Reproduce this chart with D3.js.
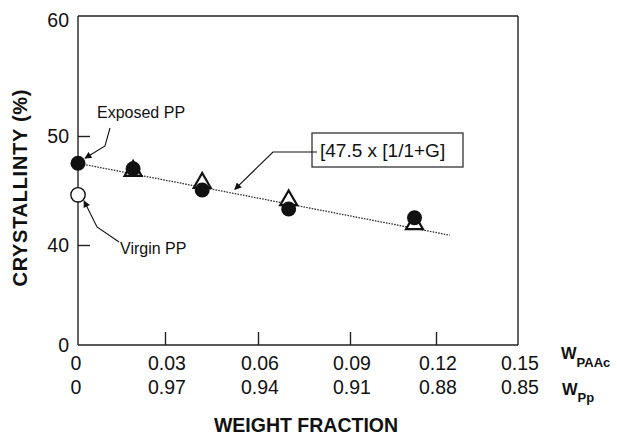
<!DOCTYPE html>
<html><head><meta charset="utf-8">
<script src="https://cdn.jsdelivr.net/npm/d3@7"></script>
<style>body{margin:0;background:#fff}svg{display:block}text{font-family:"Liberation Sans",Arial,Helvetica,sans-serif;fill:#111}</style>
</head><body>
<svg id="c" width="617" height="435"></svg>
<script>
// ---- data ----
const xTicks = [0, 0.03, 0.06, 0.09, 0.12, 0.15];
const xTickLabelsPAAc = ["0", "0.03", "0.06", "0.09", "0.12", "0.15"];
const xTickLabelsPP = ["0", "0.97", "0.94", "0.91", "0.88", "0.85"];
const yTicks = [0, 40, 50, 60];
const exposedPP = [{x: 0, y: 47.5}];
const virginPP = [{x: 0, y: 44.6}];
const circleX = [0.019, 0.042, 0.070, 0.1125];
const circleY = [47.0, 45.05, 43.3, 42.5];
const triangleX = [0.019, 0.042, 0.070, 0.1125];
const triangleY = [46.8, 45.7, 44.1, 41.9];
const fitLine = [{x: 0, y: 47.5}, {x: 0.125, y: 40.9}];
const formulaText = "[47.5 x [1/1+G]";

// ---- layout ----
const svg = d3.select("#c");
const L = 78, R = 518, T = 16, B = 345;
const x = d3.scaleLinear().domain(xTicks).range([78, 165, 258, 350, 436, 518]);
const y = d3.scaleLinear().domain(yTicks).range([345, 245, 136, 16]);

// frame
const ax = "#222";
svg.append("line").attr("x1", L).attr("x2", R).attr("y1", T).attr("y2", T).attr("stroke", ax).attr("stroke-width", 1.4);
svg.append("line").attr("x1", R).attr("x2", R).attr("y1", T).attr("y2", B).attr("stroke", ax).attr("stroke-width", 1.4);

// axes
const xAxis = d3.axisBottom(x).tickValues(xTicks.slice(1, 5)).tickSize(-13).tickFormat("");
const gx = svg.append("g").attr("transform", `translate(0,${B})`).call(xAxis);
gx.select(".domain").attr("d", `M${L},0H${R}`).attr("stroke", ax).attr("stroke-width", 1.6);
gx.selectAll(".tick line").attr("stroke", ax).attr("stroke-width", 1.4);

const yAxis = d3.axisLeft(y).tickValues([40, 50]).tickSize(-12).tickFormat("");
const gy = svg.append("g").attr("transform", `translate(${L},0)`).call(yAxis);
gy.select(".domain").attr("d", `M0,${T}V${B}`).attr("stroke", ax).attr("stroke-width", 1.4);
gy.selectAll(".tick line").attr("stroke", ax).attr("stroke-width", 1.4);

// y tick labels
svg.append("g").selectAll("text").data(yTicks).join("text")
  .attr("x", 69).attr("y", d => y(d) + (d === 60 ? 4 : 0)).attr("dy", "0.36em")
  .attr("text-anchor", "end").attr("font-size", 19.5).text(d => d);

// x tick labels (two rows)
svg.append("g").selectAll("text").data(xTicks).join("text")
  .attr("x", (d, i) => x(d) + (i === 0 ? -2 : 2)).attr("y", 370)
  .attr("text-anchor", "middle").attr("font-size", 19.5).text((d, i) => xTickLabelsPAAc[i]);
svg.append("g").selectAll("text").data(xTicks).join("text")
  .attr("x", (d, i) => x(d) + (i === 0 ? -2 : 2)).attr("y", 394)
  .attr("text-anchor", "middle").attr("font-size", 19.5).text((d, i) => xTickLabelsPP[i]);

// W labels
const w1 = svg.append("text").attr("x", 561).attr("y", 359).attr("font-weight", "bold").attr("font-size", 16.5);
w1.append("tspan").text("W");
w1.append("tspan").attr("dy", 8).attr("font-size", 13).text("PAAc");
const w2 = svg.append("text").attr("x", 562).attr("y", 395).attr("font-weight", "bold").attr("font-size", 16.5);
w2.append("tspan").text("W");
w2.append("tspan").attr("dy", 7).attr("font-size", 13).text("Pp");

// axis titles
svg.append("text").attr("x", 306).attr("y", 432).attr("text-anchor", "middle")
  .attr("font-weight", "bold").attr("font-size", 19.5).text("WEIGHT FRACTION");
svg.append("text").attr("transform", "translate(27,188) rotate(-90)").attr("text-anchor", "middle")
  .attr("font-weight", "bold").attr("font-size", 20).attr("textLength", 197).text("CRYSTALLINTY (%)");

// fit line
svg.append("path").datum(fitLine)
  .attr("d", d3.line().x(d => x(d.x)).y(d => y(d.y)))
  .attr("fill", "none").attr("stroke", "#333").attr("stroke-width", 1.3).attr("stroke-dasharray", "1.6,1.2");

// arrow marker
const defs = svg.append("defs");
defs.append("marker").attr("id", "ah").attr("viewBox", "0 0 10 10").attr("refX", 9).attr("refY", 5)
  .attr("markerWidth", 9).attr("markerHeight", 7).attr("markerUnits", "userSpaceOnUse").attr("orient", "auto")
  .append("path").attr("d", "M0,0L10,5L0,10Z").attr("fill", "#111");

// triangles (open)
svg.append("g").selectAll("path").data(triangleX.map((d, i) => ({x: d, y: triangleY[i]}))).join("path")
  .attr("transform", d => `translate(${x(d.x)},${y(d.y)})`)
  .attr("d", d3.symbol(d3.symbolTriangle, 125))
  .attr("fill", "#fff").attr("stroke", "#111").attr("stroke-width", 2.2).attr("stroke-linejoin", "miter");

// filled circles
svg.append("g").selectAll("circle").data(circleX.map((d, i) => ({x: d, y: circleY[i]}))).join("circle")
  .attr("cx", d => x(d.x)).attr("cy", d => y(d.y)).attr("r", 7.5).attr("fill", "#111");

svg.append("g").selectAll("circle").data(exposedPP).join("circle")
  .attr("cx", d => x(d.x)).attr("cy", d => y(d.y)).attr("r", 7.5).attr("fill", "#111");
svg.append("g").selectAll("circle").data(virginPP).join("circle")
  .attr("cx", d => x(d.x)).attr("cy", d => y(d.y)).attr("r", 7.2).attr("fill", "#fff").attr("stroke", "#111").attr("stroke-width", 1.4);

// annotations
svg.append("text").attr("x", 97).attr("y", 118).attr("font-size", 16).text("Exposed PP");
svg.append("path").attr("d", `M110,128L105,146L${x(0) + 7},${y(47.5) - 5}`)
  .attr("fill", "none").attr("stroke", "#111").attr("stroke-width", 1.1).attr("marker-end", "url(#ah)");

svg.append("text").attr("x", 120).attr("y", 254).attr("font-size", 16).text("Virgin PP");
svg.append("path").attr("d", `M119,242L97,227L${x(0) + 6},${y(44.6) + 6}`)
  .attr("fill", "none").attr("stroke", "#111").attr("stroke-width", 1.1).attr("marker-end", "url(#ah)");

svg.append("rect").attr("x", 312).attr("y", 133).attr("width", 151).attr("height", 34)
  .attr("fill", "#fff").attr("stroke", "#222").attr("stroke-width", 1.2);
svg.append("text").attr("x", 320).attr("y", 157).attr("font-size", 19).text(formulaText);
svg.append("path").attr("d", `M317,152L273,152L${x(0.0525)},${y(45.1)}`)
  .attr("fill", "none").attr("stroke", "#111").attr("stroke-width", 1.1).attr("marker-end", "url(#ah)");
</script>
</body></html>
